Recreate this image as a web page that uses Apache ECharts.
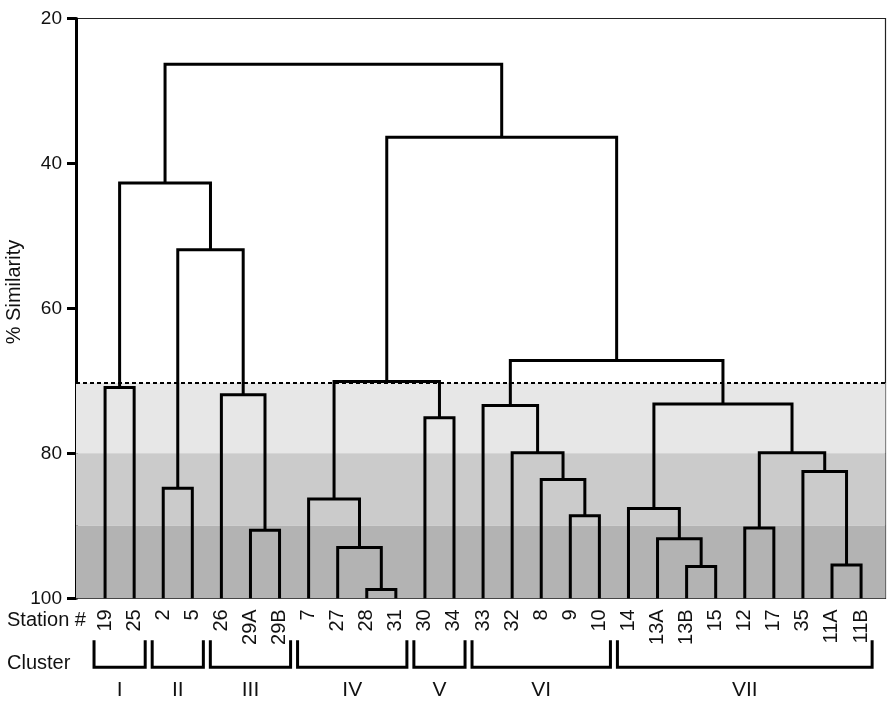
<!DOCTYPE html>
<html>
<head>
<meta charset="utf-8">
<title>Station dendrogram</title>
<script src="https://cdn.jsdelivr.net/npm/echarts@6/dist/echarts.min.js"></script>
<style>
  html, body { margin: 0; padding: 0; background: #fff; }
  #chart { width: 892px; height: 705px; }
</style>
</head>
<body>
<div id="chart"></div>
<script>
// stations in leaf order (left to right)
var stations = ['19', '25', '2', '5', '26', '29A', '29B', '7', '27', '28', '31', '30', '34',
  '33', '32', '8', '9', '10', '14', '13A', '13B', '15', '12', '17', '35', '11A', '11B'];

// merges: [left child, right child, % similarity]; 'mN' refers to merge N
var merges = [
  ['19', '25', 70.9],
  ['2', '5', 84.8],
  ['29A', '29B', 90.6],
  ['26', 'm2', 71.9],
  ['m1', 'm3', 51.9],
  ['m0', 'm4', 42.7],
  ['28', '31', 98.8],
  ['27', 'm6', 93.0],
  ['7', 'm7', 86.3],
  ['30', '34', 75.1],
  ['m8', 'm9', 70.1],
  ['9', '10', 88.6],
  ['8', 'm11', 83.6],
  ['32', 'm12', 79.9],
  ['33', 'm13', 73.4],
  ['13B', '15', 95.6],
  ['13A', 'm15', 91.8],
  ['14', 'm16', 87.6],
  ['12', '17', 90.3],
  ['11A', '11B', 95.4],
  ['35', 'm19', 82.5],
  ['m18', 'm20', 79.9],
  ['m17', 'm21', 73.2],
  ['m14', 'm22', 67.2],
  ['m10', 'm23', 36.4],
  ['m5', 'm24', 26.3]
];

var clusterNames = ['I', 'II', 'III', 'IV', 'V', 'VI', 'VII'];
var clusterFirst = ['19', '2', '26', '7', '30', '33', '14'];
var clusterLast = ['25', '5', '29B', '31', '34', '10', '11B'];

var cutLevel = 70.3;              // dashed line
var bandEdges = [70.3, 80, 90, 100];
var bandColors = ['#e7e7e7', '#cbcbcb', '#b3b3b3'];

var FONT = '"Liberation Sans", Arial, sans-serif';

// node position lookup: x = leaf index or midpoint of children, h = similarity
var nodePos = {};
stations.forEach(function (s, i) { nodePos[s] = { x: i, h: 100 }; });
var linkData = merges.map(function (m, i) {
  var a = nodePos[m[0]], b = nodePos[m[1]];
  nodePos['m' + i] = { x: (a.x + b.x) / 2, h: m[2] };
  return [(a.x + b.x) / 2, m[2], a.x, a.h, b.x, b.h];
});

var clusterData = clusterNames.map(function (n, i) {
  return [stations.indexOf(clusterFirst[i]), stations.indexOf(clusterLast[i]), i];
});

var bandAreas = bandColors.map(function (c, i) {
  return [{ yAxis: bandEdges[i], itemStyle: { color: c } }, { yAxis: bandEdges[i + 1] }];
});

var myChart = echarts.init(document.getElementById('chart'));
var option = {
  animation: false,
  textStyle: { fontFamily: FONT },
  grid: [
    { left: 76, right: 6.5, top: 18.5, bottom: 106.7, show: true, borderColor: '#222', borderWidth: 1.2 },
    { left: 90.46, right: 16.46, top: 18.5, bottom: 106.7 }
  ],
  xAxis: [
    { type: 'value', gridIndex: 0, min: -1, max: 26.84, show: false },
    {
      type: 'category', gridIndex: 1, data: stations, position: 'bottom',
      axisLine: { show: false }, axisTick: { show: false },
      axisLabel: { rotate: 90, fontSize: 20, color: '#111', margin: 11, interval: 0, fontFamily: FONT }
    }
  ],
  yAxis: [
    {
      type: 'value', gridIndex: 0, inverse: true, min: 20, max: 100, interval: 20,
      axisLine: { show: true, onZero: false, lineStyle: { color: '#000', width: 3 } },
      axisTick: { show: true, length: 9, lineStyle: { color: '#000', width: 3 } },
      axisLabel: { fontSize: 19, color: '#111', margin: 14, fontFamily: FONT },
      splitLine: { show: false }
    },
    { type: 'value', gridIndex: 1, show: false, min: 20, max: 100, inverse: true }
  ],
  series: [
    {
      name: 'bands', type: 'line', xAxisIndex: 0, yAxisIndex: 0, data: [], z: 1,
      markArea: { silent: true, data: bandAreas },
      markLine: {
        silent: true, symbol: 'none', label: { show: false },
        lineStyle: { color: '#000', width: 2, type: [4, 3] },
        data: [{ yAxis: cutLevel }]
      }
    },
    {
      name: 'dendrogram', type: 'custom', xAxisIndex: 0, yAxisIndex: 0, z: 5,
      data: linkData,
      renderItem: function (params, api) {
        var p1 = api.coord([api.value(2), api.value(3)]);
        var p2 = api.coord([api.value(2), api.value(1)]);
        var p3 = api.coord([api.value(4), api.value(1)]);
        var p4 = api.coord([api.value(4), api.value(5)]);
        return {
          type: 'polyline',
          shape: { points: [p1, p2, p3, p4] },
          style: { stroke: '#000', lineWidth: 3, fill: null, lineJoin: 'miter' }
        };
      }
    },
    {
      name: 'clusters', type: 'custom', xAxisIndex: 0, yAxisIndex: 0, z: 5, clip: false,
      data: clusterData,
      renderItem: function (params, api) {
        var base = api.coord([0, 100])[1];
        var xa = api.coord([api.value(0) - 0.38, 100])[0];
        var xb = api.coord([api.value(1) + 0.38, 100])[0];
        var top = base + 42, bot = base + 69;
        return {
          type: 'group',
          children: [
            {
              type: 'polyline',
              shape: { points: [[xa, top], [xa, bot], [xb, bot], [xb, top]] },
              style: { stroke: '#000', lineWidth: 3, fill: null }
            },
            {
              type: 'text',
              style: {
                text: clusterNames[api.value(2)], x: (xa + xb) / 2, y: base + 92,
                align: 'center', verticalAlign: 'middle',
                fontSize: 21, fontFamily: FONT, fill: '#111'
              }
            }
          ]
        };
      }
    }
  ],
  graphic: [
    {
      type: 'text', x: 14.5, y: 292, rotation: Math.PI / 2,
      style: { text: '% Similarity', align: 'center', verticalAlign: 'middle', fontSize: 20, fontFamily: FONT, fill: '#111' }
    },
    {
      type: 'text', x: 7, y: 620,
      style: { text: 'Station #', align: 'left', verticalAlign: 'middle', fontSize: 20, fontFamily: FONT, fill: '#111' }
    },
    {
      type: 'text', x: 7, y: 663,
      style: { text: 'Cluster', align: 'left', verticalAlign: 'middle', fontSize: 20, fontFamily: FONT, fill: '#111' }
    }
  ]
};
myChart.setOption(option);
</script>
</body>
</html>
